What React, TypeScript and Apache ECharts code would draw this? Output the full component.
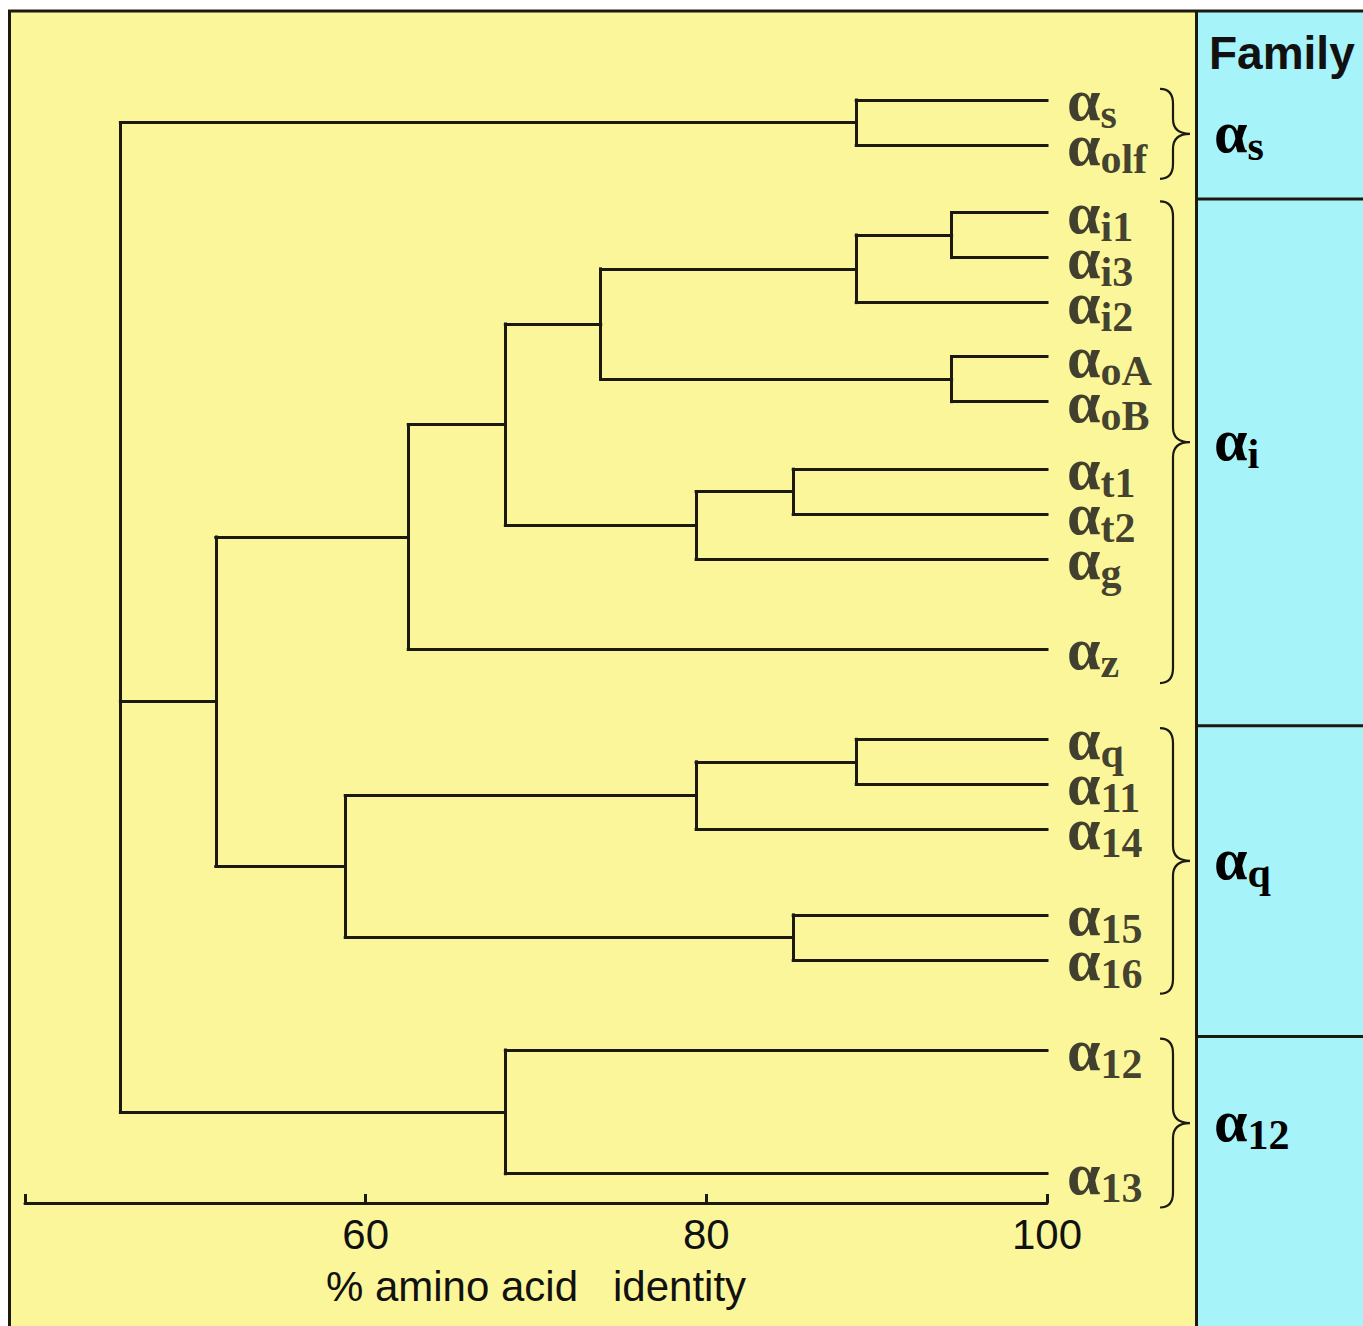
import React, { useEffect, useRef } from "react";
import * as echarts from "echarts";

// Leaves (subscripts of α), top to bottom
const leafNames = ["s", "olf", "i1", "i3", "i2", "oA", "oB", "t1", "t2", "g", "z", "q", "11", "14", "15", "16", "12", "13"];
// vertical row position of each leaf (rows of the tree)
const leafRow = [0, 1, 2.5, 3.5, 4.5, 5.7, 6.7, 8.2, 9.2, 10.2, 12.2, 14.2, 15.2, 16.2, 18.1, 19.1, 21.1, 23.85];
// internal nodes (indices 18+): children and % identity of the join
const mergeChildren = [
  [0, 1], [2, 3], [19, 4], [5, 6], [20, 21], [7, 8], [23, 9], [22, 24], [25, 10],
  [11, 12], [27, 13], [14, 15], [28, 29], [26, 30], [16, 17], [18, 31, 32],
];
const mergeIdentity = [88.8, 94.4, 88.8, 94.4, 73.8, 85.1, 79.4, 68.2, 62.5, 88.8, 79.4, 85.1, 58.8, 51.2, 68.2, 45.6];
// families
const familyNames = ["s", "i", "q", "12"];
const familyFirstLeaf = [0, 2, 11, 16];
const familyLastLeaf = [1, 10, 15, 17];
// axis
const axisMin = 40;
const axisMax = 100;
const axisInterval = 20;
const axisTitle = "% amino acid   identity";

const YELLOW = "#fcf69b";
const CYAN = "#a6f3f9";
const INK = "#1c1a10";

const richAlpha = {
  a: { fontFamily: "Liberation Serif", fontWeight: "bold", fontSize: 60, lineHeight: 40, color: "#111" },
  b: { fontFamily: "Liberation Serif", fontWeight: "bold", fontSize: 42, lineHeight: 16, padding: [28, 0, 0, 0], color: "#111" },
};

function buildSegments() {
  const nx: number[] = leafNames.map(() => axisMax);
  const ny: number[] = [...leafRow];
  const segs: number[][][] = [];
  mergeChildren.forEach((kids, i) => {
    const h = mergeIdentity[i];
    const ys = kids.map((k) => ny[k]);
    const lo = Math.min(...ys);
    const hi = Math.max(...ys);
    segs.push([[h, lo], [h, hi]]);
    kids.forEach((k) => segs.push([[h, ny[k]], [nx[k], ny[k]]]));
    nx.push(h);
    ny.push((lo + hi) / 2);
  });
  return segs;
}

export default function App() {
  const ref = useRef<HTMLDivElement>(null);
  useEffect(() => {
    document.body.style.margin = "0";
    const chart = echarts.init(ref.current!, null, { renderer: "svg" });
    const segs = buildSegments();
    const option: any = {
      animation: false,
      backgroundColor: "#ffffff",
      graphic: [
        { type: "rect", z: -10, shape: { x: 10, y: 12, width: 1187, height: 1320 }, style: { fill: YELLOW } },
        { type: "rect", z: -10, shape: { x: 1197, y: 12, width: 170, height: 1320 }, style: { fill: CYAN } },
        { type: "line", z: 50, shape: { x1: 8, y1: 11, x2: 1363, y2: 11 }, style: { stroke: INK, lineWidth: 3 } },
        { type: "line", z: 50, shape: { x1: 9.5, y1: 10, x2: 9.5, y2: 1326 }, style: { stroke: INK, lineWidth: 3 } },
        { type: "line", z: 50, shape: { x1: 1196.5, y1: 10, x2: 1196.5, y2: 1326 }, style: { stroke: INK, lineWidth: 3 } },
        {
          type: "text", z: 50, x: 1209, y: 53,
          style: { text: "Family", fontFamily: "Liberation Sans", fontWeight: "bold", fontSize: 46, fill: "#111", verticalAlign: "middle", align: "left" },
        },
      ],
      grid: { left: 25, right: 316, top: 10, bottom: 123 },
      xAxis: {
        type: "value",
        min: axisMin,
        max: axisMax,
        interval: axisInterval,
        splitLine: { show: false },
        axisLine: { show: true, onZero: false, lineStyle: { color: INK, width: 3 } },
        axisTick: { show: true, inside: true, length: 9, lineStyle: { color: INK, width: 3 } },
        axisLabel: {
          show: true,
          margin: 10,
          fontFamily: "Liberation Sans",
          fontSize: 42,
          color: "#111",
          formatter: (v: number) => (v === axisMin ? "" : String(v)),
        },
        name: axisTitle,
        nameLocation: "middle",
        nameGap: 62,
        nameTextStyle: { fontFamily: "Liberation Sans", fontSize: 42, color: "#111" },
      },
      yAxis: { type: "value", inverse: true, min: -2, max: 24.5, show: false },
      series: [
        {
          type: "lines",
          coordinateSystem: "cartesian2d",
          polyline: false,
          z: 3,
          lineStyle: { color: INK, width: 3, opacity: 1, cap: "square" },
          data: segs.map((s) => ({ coords: s })),
        },
        {
          type: "scatter",
          symbolSize: 0,
          z: 4,
          data: leafNames.map((n, i) => [axisMax, leafRow[i], n]),
          label: {
            show: true,
            position: "right",
            distance: 20,
            formatter: (p: any) => `{a|α}{b|${p.data[2]}}`,
            rich: richAlpha,
          },
        },
        {
          type: "custom",
          z: 5,
          clip: false,
          data: familyNames.map((n, i) => [leafRow[familyFirstLeaf[i]], leafRow[familyLastLeaf[i]], i]),
          renderItem: (params: any, api: any) => {
            const r0 = api.value(0);
            const r1 = api.value(1);
            const idx = api.value(2);
            const top = api.coord([axisMax, r0 - 0.25])[1];
            const bot = api.coord([axisMax, r1 + 0.75])[1];
            const x100 = api.coord([axisMax, r0])[0];
            const mid = (top + bot) / 2;
            const xe = x100 + 113;
            const xv = x100 + 126;
            const xp = x100 + 143;
            const r = Math.min(15, (bot - top) / 4);
            const d = `M ${xe} ${top} Q ${xv} ${top} ${xv} ${top + r} L ${xv} ${mid - r} Q ${xv} ${mid} ${xp} ${mid} Q ${xv} ${mid} ${xv} ${mid + r} L ${xv} ${bot - r} Q ${xv} ${bot} ${xe} ${bot}`;
            const children: any[] = [
              { type: "path", shape: { pathData: d }, style: { stroke: INK, fill: "none", lineWidth: 2.2 } },
              {
                type: "text",
                x: x100 + 167,
                y: mid - 2,
                style: { text: `{a|α}{b|${familyNames[idx]}}`, rich: richAlpha, verticalAlign: "middle", align: "left" },
              },
            ];
            if (idx > 0) {
              const dy = api.coord([axisMax, r0 - 0.3])[1];
              children.push({ type: "line", shape: { x1: x100 + 149, y1: dy, x2: 1400, y2: dy }, style: { stroke: INK, lineWidth: 3 } });
            }
            return { type: "group", children };
          },
        },
      ],
    };
    chart.setOption(option);
    return () => chart.dispose();
  }, []);
  return <div ref={ref} style={{ width: 1363, height: 1326 }} />;
}
